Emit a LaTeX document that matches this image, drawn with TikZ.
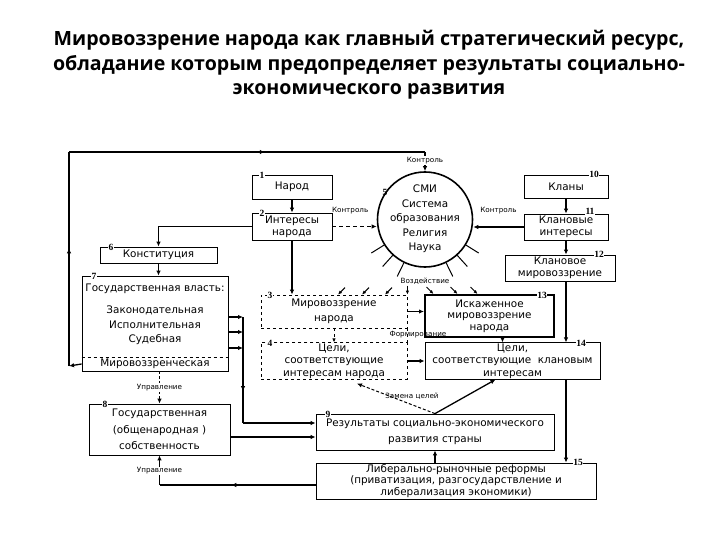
\documentclass[tikz,border=0pt]{standalone}
\usepackage{fontspec}
\setmainfont{DejaVu Sans}
\newfontfamily\titlefont{Open Sans}
\newfontfamily\numfont{Liberation Serif}
\usetikzlibrary{arrows.meta,calc,decorations.markings}

\tikzset{
  box/.style={draw,line width=0.8pt,inner sep=1pt,align=center,font=\fontsize{10.4}{12}\selectfont},
  dbox/.style={box,dashed},
  txt/.style={inner sep=0pt,align=center,font=\fontsize{10.4}{12}\selectfont},
  num/.style={fill=white,inner sep=0.6pt,font=\numfont\bfseries\fontsize{9.5}{9.5}\selectfont},
  lbl/.style={inner sep=1pt,font=\fontsize{7.2}{8}\selectfont},
  wire/.style={line width=1.3pt},
  conn/.style={wire,-{Latex[length=5pt,width=4.5pt]}},
  stub/.style={line width=1pt,-{Latex[length=4pt,width=3.5pt]}},
  midarrow/.style={postaction={decorate},decoration={markings,mark=at position #1 with {\arrow{Latex[length=5pt,width=4.5pt]}}}},
}

\begin{document}
\begin{tikzpicture}[x=1pt,y=-1pt]
\useasboundingbox (0,0) rectangle (720,540);
% заголовок
\node[align=center,font=\titlefont\bfseries\fontsize{19.6}{24.5}\selectfont] (title) at (369,65)
  {Мировоззрение народа как главный стратегический ресурс,\\обладание которым предопределяет результаты социально-\\экономического развития};

% блоки слева
\node[box,minimum width=80pt,minimum height=24pt] (n1) at (292,187) {Народ};
\node[box,minimum width=80pt,minimum height=27pt] (n2) at (292,226.5) {Интересы\\народа};
\node[box,minimum width=117pt,minimum height=16pt] (n6) at (158.5,255) {Конституция};
\node[box,minimum width=146pt,minimum height=95pt] (n7) at (155,323.5) {};
\node[txt] (n7h) at (155,289) {Государственная власть:};
\node[txt,font=\fontsize{10.4}{14.5}\selectfont] (n7t) at (155,325.5) {Законодательная\\Исполнительная\\Судебная};
\node[txt] (n7m) at (155,364) {Мировоззренческая};
\draw[dashed,line width=0.6pt] (n7.west |- 0,357) -- (n7.east |- 0,357);
\node[box,minimum width=141pt,minimum height=51pt,font=\fontsize{10.4}{16.5}\selectfont] (n8) at (159.5,429.5) {Государственная\\(общенародная )\\собственность};

% блоки в центре
\node[dbox,minimum width=146pt,minimum height=33pt,font=\fontsize{10.4}{15}\selectfont] (n3) at (334,311.5) {Мировоззрение\\народа};
\node[dbox,minimum width=146pt,minimum height=36pt,font=\fontsize{10.4}{12.3}\selectfont] (n4) at (334,361) {Цели,\\соответствующие\\интересам народа};
\draw[dashed,line width=0.8pt] (n3.south east) -- (n4.north east);
\node[draw,circle,line width=1.6pt,minimum size=95pt,inner sep=0pt] (n5) at (425,219.5) {};
\node[txt,font=\fontsize{10.4}{14.5}\selectfont] (n5t) at (425,219) {СМИ\\Система\\образования\\Религия\\Наука};
\node[box,minimum width=238pt,minimum height=36pt,font=\fontsize{10.4}{16}\selectfont] (n9) at (435,432) {Результаты социально-экономического\\развития страны};
\node[box,minimum width=280pt,minimum height=36pt,font=\fontsize{10.4}{11.6}\selectfont] (n15) at (456,481) {Либерально-рыночные реформы\\(приватизация, разгосударствление и\\либерализация экономики)};

% блоки справа
\node[box,minimum width=84pt,minimum height=23pt] (n10) at (566,186.5) {Кланы};
\node[box,minimum width=84pt,minimum height=26pt,font=\fontsize{10.4}{11.5}\selectfont] (n11) at (566,227) {Клановые\\интересы};
\node[box,minimum width=110pt,minimum height=26pt,font=\fontsize{10.4}{11.5}\selectfont] (n12) at (560,268) {Клановое\\мировоззрение};
\node[box,line width=2pt,minimum width=129pt,minimum height=42pt,font=\fontsize{10.4}{11.5}\selectfont] (n13) at (489.5,316) {Искаженное\\мировоззрение\\народа};
\node[box,minimum width=175pt,minimum height=36pt,font=\fontsize{10.4}{12.3}\selectfont] (n14) at (512.5,361) {Цели,\\соответствующие\ \ клановым\\интересам};

% номера
\node[num] (k1) at (262,175) {1};
\node[num] (k2) at (262,213) {2};
\node[num] (k3) at (270,295) {3};
\node[num] (k4) at (270,343) {4};
\node[num,fill=none] (k5) at (385,192) {5};
\node[num] (k6) at (111,247) {6};
\node[num] (k7) at (94,276) {7};
\node[num] (k8) at (105,404) {8};
\node[num] (k9) at (328,414) {9};
\node[num] (k10) at (594,174) {10};
\node[num] (k11) at (590,211) {11};
\node[num] (k12) at (599,254) {12};
\node[num] (k13) at (542,295) {13};
\node[num] (k14) at (581,343) {14};
\node[num] (k15) at (578,462) {15};

% связи
\draw[conn] (n1) -- (n2);
\draw[conn] (n2.west) -| (n6.north);
\draw[conn] (n6.south) -- (n6.south |- n7.north);
\draw[conn] (n2.south) -- (n2.south |- n3.north);
\draw[conn,dash pattern=on 4pt off 3pt] (n2.east) -- (n2.east -| n5.west) node[lbl,pos=0.4,above=11pt] (kc1) {Контроль};
\draw[conn] (n11.west) -- (n11.west -| n5.east) node[lbl,midway,above=11pt] (kc2) {Контроль};
\draw[conn] (n10) -- (n11);
\draw[conn] (n11.south) -- (n11.south |- n12.north);
\draw[conn] (n11.south |- n12.south) -- (n11.south |- n14.north);

% обратная связь сверху
\coordinate (lp1) at (69,366);
\coordinate (lp2) at (69,152);
\coordinate (lp3) at (425,152);
\draw[conn] (n7.west |- n7m) -- (lp1);
\draw[wire,midarrow=0.55] (lp1) -- (lp2);
\draw[wire,midarrow=0.55] (lp2) -- (lp3);
\draw[conn] (lp3) -- (n5.north) node[lbl,pos=0.45,fill=white] (kc3) {Контроль};

% ветви власти
\coordinate (bus1) at (243,317);
\coordinate (bus2) at (243,423);
\foreach \y in {317,332,348} \draw[conn] (n7.east |- 0,\y) -- (bus1 |- 0,\y);
\draw[wire,midarrow=0.7] (bus1) -- (bus2);
\draw[conn] (bus2) -- (bus2 -| n9.west);
\draw[conn] (n8.east |- 0,437) -- (n9.west |- 0,437);

% управление
\draw[-{Latex[length=5pt,width=4.5pt]},line width=1pt,dash pattern=on 3pt off 2pt] (n8.north |- n7.south) -- (n8.north) node[lbl,midway,fill=white] (up1) {Управление};
\draw[wire,midarrow=0.54] (n15.west |- 0,485) -- (n8.south |- 0,485);
\draw[conn] (n8.south |- 0,485) -- (n8.south) node[lbl,pos=0.47,fill=white] (up2) {Управление};

% середина
\draw[-{Latex[length=4pt,width=3.5pt]},line width=0.8pt,dashed] (n3.south) -- (n4.north);
\draw[conn] (n3.east) -- (n3.east -| n13.west);
\draw[conn] (n4.east) -- (n14.west);
\coordinate (c13) at ($(n13.south)+(13,0)$);
\draw[conn] (c13) -- (c13 |- n14.north);
\node[lbl] (form) at (418,335) {Формирование};
\draw[conn] (n14.south -| n11.south) -- (n11.south |- n15.north);
\draw[conn] (n15.north -| n9.south) -- (n9.south);

% замена целей
\draw[conn] (n9.north) -- ($(n14.south)+(-17,0)$);
\draw[-{Latex[length=5pt,width=4.5pt]},line width=1pt,dash pattern=on 3pt off 2pt] (n9.north) -- ($(n4.south)+(23,4)$);
\node[lbl] (zam) at (412,396) {Замена целей};

% воздействие
\foreach \a in {212,228,244,296,312,328} \draw[line width=1pt] (n5.\a) -- ++(\a:15pt);
\node[lbl] (vozd) at (425,281) {Воздействие};
\foreach \dx in {4,28,51} \draw[stub] ($(n3.north)+(\dx+7,-7)$) -- ($(n3.north)+(\dx,0)$);
\draw[stub] ($(n3.north east)+(0,-9)$) -- (n3.north east);
\foreach \dx in {-56,-32,-12} \draw[stub] ($(n13.north)+(\dx-7,-7)$) -- ($(n13.north)+(\dx,0)$);
\end{tikzpicture}
\end{document}
